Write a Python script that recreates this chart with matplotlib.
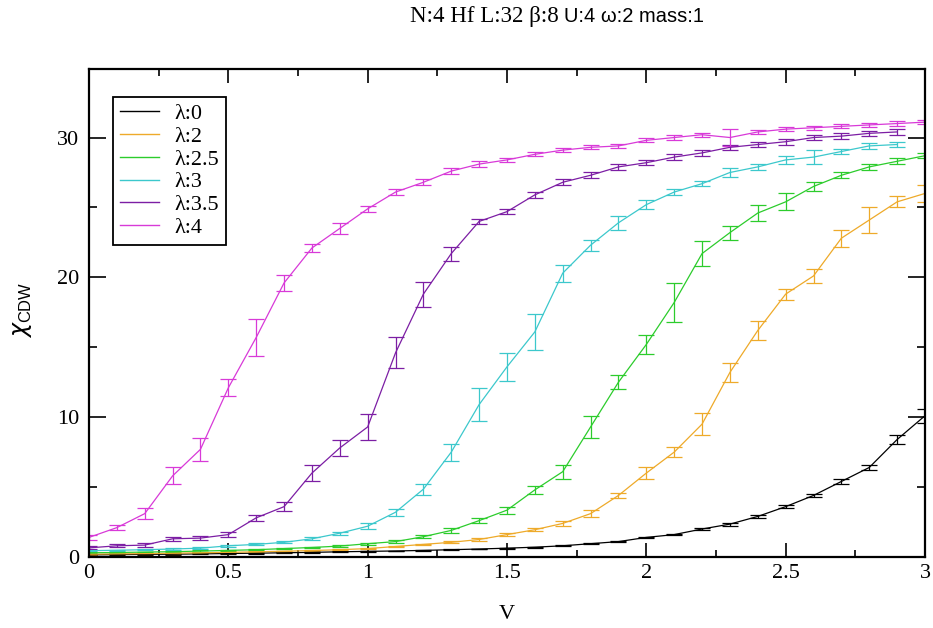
import numpy as np
import matplotlib.pyplot as plt
from matplotlib.ticker import MultipleLocator
from matplotlib.lines import Line2D

plt.rcParams['font.family'] = ['Liberation Serif', 'DejaVu Serif']
plt.rcParams['mathtext.fontset'] = 'custom'
plt.rcParams['mathtext.rm'] = 'Liberation Serif'
plt.rcParams['mathtext.sf'] = 'Liberation Sans'
plt.rcParams['xtick.direction'] = 'in'
plt.rcParams['ytick.direction'] = 'in'
plt.rcParams['axes.linewidth'] = 1.6

# susceptibility vs V for each lambda
V = [0.0, 0.1, 0.2, 0.3, 0.4, 0.5, 0.6, 0.7, 0.8, 0.9, 1.0,
     1.1, 1.2, 1.3, 1.4, 1.5, 1.6, 1.7, 1.8, 1.9, 2.0,
     2.1, 2.2, 2.3, 2.4, 2.5, 2.6, 2.7, 2.8, 2.9, 3.0]

chi_l0 = [0.15, 0.17, 0.19, 0.2, 0.22, 0.25, 0.27, 0.3, 0.33, 0.37, 0.4,
          0.43, 0.47, 0.52, 0.57, 0.63, 0.7, 0.8, 0.95, 1.1, 1.4,
          1.6, 2.0, 2.35, 2.9, 3.6, 4.4, 5.4, 6.4, 8.4, 10.1]
err_l0 = [0.03, 0.03, 0.03, 0.03, 0.03, 0.03, 0.03, 0.03, 0.03, 0.03, 0.03,
          0.03, 0.03, 0.03, 0.03, 0.03, 0.04, 0.04, 0.05, 0.05, 0.06,
          0.06, 0.08, 0.1, 0.12, 0.1, 0.12, 0.15, 0.2, 0.3, 0.5]

chi_l2 = [0.2, 0.22, 0.24, 0.27, 0.3, 0.33, 0.37, 0.41, 0.46, 0.52, 0.6,
          0.75, 0.9, 1.05, 1.25, 1.6, 1.95, 2.4, 3.1, 4.4, 6.0,
          7.5, 9.5, 13.2, 16.2, 18.8, 20.1, 22.8, 24.1, 25.4, 26.0]
err_l2 = [0.03, 0.03, 0.03, 0.03, 0.03, 0.03, 0.03, 0.03, 0.04, 0.04, 0.05,
          0.05, 0.06, 0.08, 0.1, 0.12, 0.12, 0.2, 0.25, 0.2, 0.4,
          0.35, 0.8, 0.7, 0.7, 0.4, 0.5, 0.6, 0.9, 0.4, 0.6]

chi_l25 = [0.3, 0.32, 0.35, 0.38, 0.42, 0.47, 0.52, 0.6, 0.68, 0.78, 0.95,
           1.1, 1.45, 1.9, 2.6, 3.35, 4.8, 6.1, 9.3, 12.5, 15.2,
           18.2, 21.7, 23.2, 24.6, 25.4, 26.5, 27.3, 27.9, 28.3, 28.7]
err_l25 = [0.04, 0.04, 0.04, 0.04, 0.05, 0.05, 0.05, 0.06, 0.06, 0.07, 0.08,
           0.1, 0.12, 0.15, 0.2, 0.25, 0.3, 0.5, 0.8, 0.5, 0.7,
           1.4, 0.9, 0.5, 0.6, 0.6, 0.3, 0.2, 0.2, 0.2, 0.2]

V_short = V[:-1]

chi_l3 = [0.45, 0.48, 0.52, 0.57, 0.63, 0.8, 0.9, 1.05, 1.3, 1.7,
          2.2, 3.2, 4.85, 7.5, 10.9, 13.6, 16.1, 20.3, 22.3, 23.9,
          25.2, 26.1, 26.7, 27.5, 27.9, 28.4, 28.6, 29.0, 29.4, 29.5]
err_l3 = [0.04, 0.04, 0.05, 0.05, 0.05, 0.06, 0.07, 0.08, 0.1, 0.12,
          0.2, 0.25, 0.4, 0.6, 1.2, 1.0, 1.3, 0.6, 0.4, 0.5,
          0.3, 0.2, 0.2, 0.3, 0.2, 0.3, 0.5, 0.2, 0.2, 0.2]

chi_l35 = [0.65, 0.8, 0.85, 1.3, 1.35, 1.6, 2.8, 3.6, 6.0, 7.8,
           9.3, 14.6, 18.8, 21.7, 24.0, 24.7, 25.9, 26.8, 27.3, 27.9,
           28.2, 28.6, 28.9, 29.3, 29.5, 29.7, 30.0, 30.1, 30.3, 30.4]
err_l35 = [0.1, 0.1, 0.15, 0.15, 0.15, 0.2, 0.2, 0.3, 0.6, 0.6,
           0.9, 1.1, 0.9, 0.5, 0.2, 0.2, 0.2, 0.2, 0.2, 0.2,
           0.2, 0.2, 0.2, 0.2, 0.2, 0.2, 0.2, 0.2, 0.2, 0.2]

chi_l4 = [1.4, 2.1, 3.1, 5.8, 7.7, 12.1, 15.7, 19.6, 22.1, 23.5, 24.9,
          26.1, 26.8, 27.6, 28.1, 28.4, 28.8, 29.1, 29.3, 29.4, 29.8,
          30.0, 30.2, 30.0, 30.4, 30.6, 30.7, 30.8, 30.9, 31.0, 31.1]
err_l4 = [0.2, 0.2, 0.4, 0.6, 0.8, 0.6, 1.3, 0.6, 0.3, 0.4, 0.2,
          0.2, 0.2, 0.2, 0.2, 0.15, 0.15, 0.15, 0.15, 0.15, 0.15,
          0.15, 0.15, 0.6, 0.15, 0.15, 0.15, 0.15, 0.15, 0.15, 0.15]

series = [
    ('λ:0', V, chi_l0, err_l0, 'black'),
    ('λ:2', V, chi_l2, err_l2, '#eeaa2a'),
    ('λ:2.5', V, chi_l25, err_l25, '#2ccc2c'),
    ('λ:3', V_short, chi_l3, err_l3, '#3cc8cc'),
    ('λ:3.5', V_short, chi_l35, err_l35, '#7c1ea4'),
    ('λ:4', V, chi_l4, err_l4, '#d83ad8'),
]

fig = plt.figure(figsize=(9.33, 6.28), dpi=100)
ax = fig.add_axes([0.0954, 0.1131, 0.8960, 0.7770])

handles = []
for lab, x, y, e, c in series:
    ax.errorbar(x, y, yerr=e, color=c, lw=0.9, elinewidth=0.9,
                capsize=5.5, capthick=0.9)
    handles.append(Line2D([], [], color=c, lw=1.0, label=lab))

ax.set_xlim(0, 3)
ax.set_ylim(0, 34.9)
ax.xaxis.set_major_locator(MultipleLocator(0.5))
ax.xaxis.set_minor_locator(MultipleLocator(0.25))
ax.yaxis.set_major_locator(MultipleLocator(10))
ax.yaxis.set_minor_locator(MultipleLocator(5))
ax.xaxis.set_major_formatter(plt.FuncFormatter(lambda v, p: f'{v:g}'))
ax.tick_params(which='both', top=True, right=True, labelsize=16, width=1.2)
ax.tick_params(axis='x', which='major', length=10, pad=5)
ax.tick_params(axis='x', which='minor', length=5)
ax.tick_params(axis='y', which='major', length=12, pad=7)
ax.tick_params(axis='y', which='minor', length=6)

ax.set_xlabel('V', fontsize=16, labelpad=16)
ax.set_ylabel(r'$\chi_{\mathsf{CDW}}$', fontsize=17)
ax.yaxis.set_label_coords(-0.066, 0.506)

leg = ax.legend(handles=handles, loc='upper left',
                bbox_to_anchor=(0.029, 0.943), borderaxespad=0,
                fontsize=16, handlelength=1.75, labelspacing=0.1,
                handletextpad=0.7, fancybox=False, framealpha=1,
                edgecolor='black', borderpad=0.3)
leg.get_frame().set_linewidth(1.3)

# title is set in two fonts
fig.text(0.605, 0.973, 'N:4 Hf L:32 β:8 ', ha='right', va='center',
         fontsize=16.5, family=['Liberation Serif'])
fig.text(0.605, 0.973, 'U:4 ω:2 mass:1', ha='left', va='center',
         fontsize=14.5, family=['Liberation Sans', 'DejaVu Sans'])

fig.savefig('out.png', dpi=100, facecolor='white')
